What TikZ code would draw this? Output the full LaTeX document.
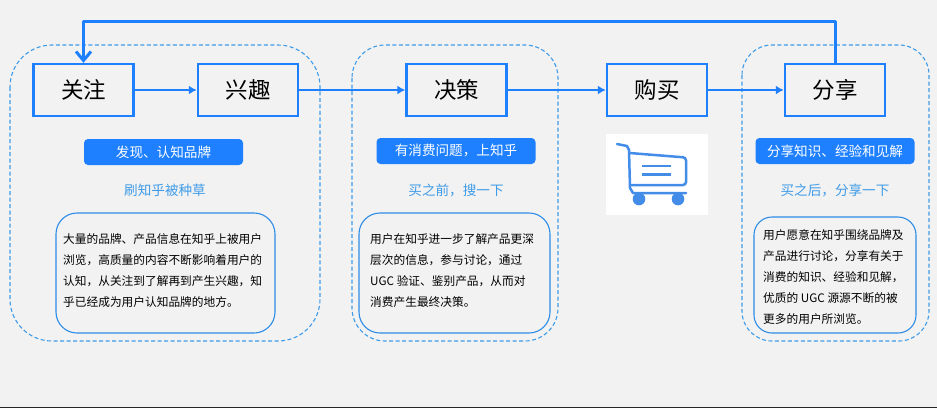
\documentclass[tikz,border=0pt]{standalone}
\usepackage{fontspec}
\setmainfont{Noto Sans CJK SC}
\usetikzlibrary{arrows.meta}
\definecolor{flowblue}{HTML}{1E80FF}
\definecolor{dashblue}{HTML}{3F9BE8}
\definecolor{noteblue}{HTML}{2D8CE6}
\definecolor{cartblue}{HTML}{438CE8}
\definecolor{pagegray}{HTML}{F2F2F2}
\tikzset{
    stepbox/.style={draw=flowblue, line width=2.4pt, minimum width=100pt, minimum height=52pt, inner sep=0pt, font=\fontsize{22.5}{26}\selectfont},
    pill/.style={fill=flowblue, rounded corners=4pt, minimum height=26pt, minimum width=159pt, inner sep=0pt, text=white, font=\fontsize{13.6}{16}\selectfont},
    slogan/.style={text=dashblue, inner sep=0pt, font=\fontsize{13.6}{16}\selectfont},
    notetext/.style={align=left, inner sep=0pt, anchor=north west, text=black, font=\fontsize{11.7}{21}\selectfont},
    flow/.style={draw=flowblue, line width=2.8pt, -{Latex[length=8pt,width=9pt]}},
    flowback/.style={draw=flowblue, line width=3pt, line join=round, -{Straight Barb[length=9pt,width=15pt]}},
    stage/.style={draw=dashblue, line width=1.1pt, dash pattern=on 4pt off 2.5pt},
    notebox/.style={draw=noteblue, line width=1.1pt}
}
\begin{document}
\begin{tikzpicture}[x=1pt,y=-1pt]
    \useasboundingbox (0,0) rectangle (937,408);
    \fill[pagegray] (0,0) rectangle (937,408);
    \draw[black!85, line width=1.2pt] (0,407.4) -- (937,407.4);

    % dashed stages
    \draw[stage, rounded corners=42pt] (10,45) rectangle (320,341);
    \draw[stage, rounded corners=33pt] (352,45) rectangle (558,341);
    \draw[stage, rounded corners=30pt] (742,45) rectangle (929,341);

    % steps
    \node[stepbox] (guanzhu) at (83.5,90) {关注};
    \node[stepbox] (xingqu) at (248,90) {兴趣};
    \node[stepbox] (juece) at (456.5,90) {决策};
    \node[stepbox] (goumai) at (657,90) {购买};
    \node[stepbox] (fenxiang) at (835,90) {分享};

    \draw[flow] (guanzhu) -- (xingqu);
    \draw[flow] (xingqu) -- (juece);
    \draw[flow] (juece) -- (goumai);
    \draw[flow] (goumai) -- (fenxiang);
    \coordinate (topturn) at (835,21);
    \draw[flowback] (fenxiang.north) -- (topturn) -| (guanzhu.north);

    % pills and slogans
    \node[pill] (pillone) at (163.5,152) {发现、认知品牌};
    \node[pill] (pilltwo) at (456,151) {有消费问题，上知乎};
    \node[pill] (pillthree) at (835,151) {分享知识、经验和见解};
    \node[slogan] (sloganone) at (165,190) {刷知乎被种草};
    \node[slogan] (slogantwo) at (456,190) {买之前，搜一下};
    \node[slogan] (sloganthree) at (835,190) {买之后，分享一下};

    % notes
    \draw[notebox, rounded corners=21pt] (56,213) rectangle (275,333);
    \draw[notebox, rounded corners=21pt] (359,213) rectangle (550,333);
    \draw[notebox, rounded corners=18pt] (754,217) rectangle (916,333);
    \node[notetext] (noteone) at (63,233.5) {大量的品牌、产品信息在知乎上被用户\\浏览，高质量的内容不断影响着用户的\\认知，从关注到了解再到产生兴趣，知\\乎已经成为用户认知品牌的地方。};
    \node[notetext] (notetwo) at (370,233.5) {用户在知乎进一步了解产品更深\\层次的信息，参与讨论，通过\\UGC 验证、鉴别产品，从而对\\消费产生最终决策。};
    \node[notetext] (notethree) at (763,229.5) {用户愿意在知乎围绕品牌及\\产品进行讨论，分享有关于\\消费的知识、经验和见解，\\优质的 UGC 源源不断的被\\更多的用户所浏览。};

    % cart
    \fill[white] (606,134) rectangle (708,215);
    \draw[cartblue, line width=2.5pt, line cap=round, line join=round]
        (617,144) -- (627,146) -- (629,150) -- (630,188) -- (633,193) -- (686,193);
    \draw[cartblue, line width=2.5pt, rounded corners=3pt]
        (629.5,153) -- (686,157.5) -- (686,185) -- (630,185);
    \draw[cartblue, line width=2.2pt] (642,166) -- (671,166);
    \draw[cartblue, line width=2.2pt] (642,174.5) -- (671,174.5);
    \fill[cartblue] (639,199) circle (6.3);
    \fill[cartblue] (678,199) circle (6.3);
\end{tikzpicture}
\end{document}
